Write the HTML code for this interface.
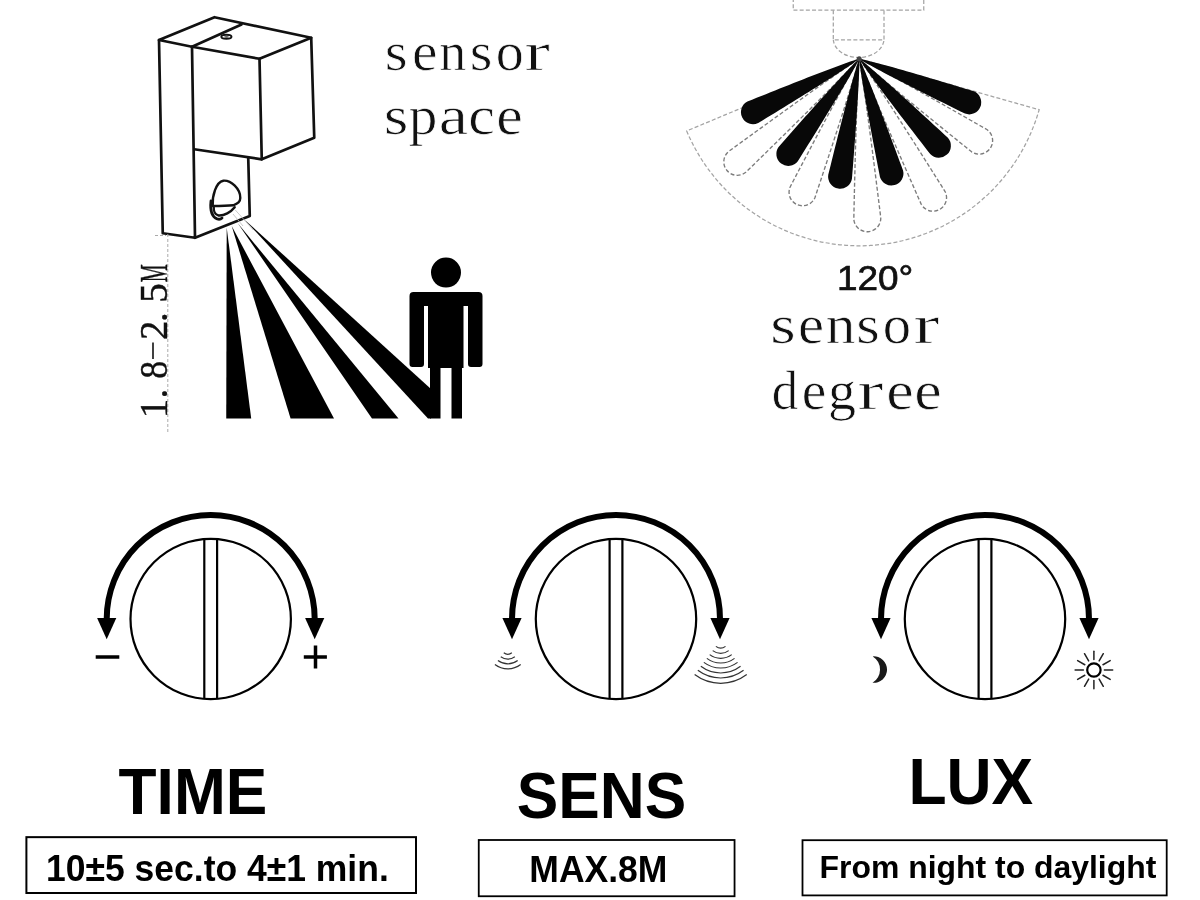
<!DOCTYPE html>
<html><head><meta charset="utf-8"><title>Sensor</title>
<style>
html,body{margin:0;padding:0;background:#fff;}
body{width:1200px;height:900px;overflow:hidden;}
svg{display:block;filter:grayscale(1);}
.ser{font-family:"Liberation Serif",serif;}
.sans{font-family:"Liberation Sans",sans-serif;}
</style></head><body>
<svg width="1200" height="900" viewBox="0 0 1200 900">
<rect width="1200" height="900" fill="#fff"/>

<g fill="none" stroke="#111" stroke-width="2.7" stroke-linejoin="round" stroke-linecap="round">
<path d="M159,40 L214.5,17.2 L311.2,37.75 L259.5,58.75 L192,46.75 Z"/>
<path d="M241.5,24.5 L192,46.75"/>
<path d="M159,40 L162.75,233.25 L195,237.75 L192,46.75"/>
<path d="M259.5,58.75 L261.75,159.3 L314.25,137.7 L311.2,37.75"/>
<path d="M194.25,149.25 L261.75,159.3"/>
<path d="M248.25,158.25 L249.75,216 L195,237.75"/>
</g>
<ellipse cx="226.4" cy="36.8" rx="5.1" ry="2.1" fill="none" stroke="#111" stroke-width="1.9"/><ellipse cx="226.5" cy="37" rx="2.4" ry="1" fill="#666"/>
<g fill="none" stroke="#111" stroke-width="2.4" stroke-linecap="round" stroke-linejoin="round">
<path d="M212.7,206 C212,196 216,182 223.3,180.7 C231,180 240.5,189 240.3,198 C240.2,202 238,203.5 233.3,205.3 C226,206 218,206 212.7,206 Z"/>
<path d="M213.7,207 C213.5,211 215,215 218.5,215.5 C224,216 231,212 234.7,207.3"/>
<path d="M211,201 C210,210 212,217 217.3,219 C219,219.5 221,219 222,218" stroke-width="2.8"/>
</g>
<g stroke="#bbb" stroke-width="0.8"><path d="M235.3,210 L253.3,230"/><path d="M233,214 L243,226"/></g>
<g fill="#000">
<path d="M226.7,227.8 L226.25,418.4 L251.2,418.4 Z"/>
<path d="M231.7,226.1 L290.6,418.4 L334,418.4 Z"/>
<path d="M237.8,223.3 L372,418.4 L398.5,418.4 Z"/>
<path d="M244.4,219.4 L431,389 L431,418.4 L428,418.4 Z"/>
</g>
<g fill="#000">
<circle cx="446" cy="272.6" r="15"/>
<path d="M409.5,296 Q409.5,292 413.5,292 L478.5,292 Q482.5,292 482.5,296 L482.5,364 Q482.5,367 479.5,367 L471,367 Q468,367 468,364 L468,306 L463.5,306 L463.5,368 L462,368 L462,418.5 L451.5,418.5 L451.5,368 L440.5,368 L440.5,418.5 L430,418.5 L430,368 L428,368 L428,306 L424,306 L424,364 Q424,367 421,367 L412.5,367 Q409.5,367 409.5,364 Z"/>
</g>
<g stroke="#aaa" stroke-width="1" stroke-dasharray="3,2" fill="none"><path d="M167.8,234 L167.8,433.5"/><path d="M155,235.5 L166,235.5"/></g>
<text class="ser" font-size="39" fill="#111" stroke="#111" stroke-width="0.4" text-anchor="middle" transform="translate(167.2,408.5) rotate(-90) scale(1,1)">1</text>
<text class="ser" font-size="39" fill="#111" stroke="#111" stroke-width="0.4" text-anchor="middle" transform="translate(167.2,393.5) rotate(-90) scale(1,1)">.</text>
<text class="ser" font-size="39" fill="#111" stroke="#111" stroke-width="0.4" text-anchor="middle" transform="translate(167.2,369.75) rotate(-90) scale(0.92,1)">8</text>
<text class="ser" font-size="39" fill="#111" stroke="#111" stroke-width="0.4" text-anchor="middle" transform="translate(167.2,330.2) rotate(-90) scale(1,1)">2</text>
<text class="ser" font-size="39" fill="#111" stroke="#111" stroke-width="0.4" text-anchor="middle" transform="translate(167.2,317) rotate(-90) scale(1,1)">.</text>
<text class="ser" font-size="39" fill="#111" stroke="#111" stroke-width="0.4" text-anchor="middle" transform="translate(167.2,293) rotate(-90) scale(1,1)">5</text>
<text class="ser" font-size="39" fill="#111" stroke="#111" stroke-width="0.4" text-anchor="middle" transform="translate(167.2,273.3) rotate(-90) scale(0.52,1)">M</text>
<path d="M153,342.5 L153,359" stroke="#111" stroke-width="1.6"/>
<g fill="none" stroke="#a4a4a4" stroke-width="1.25" stroke-dasharray="4,2.2">
<path d="M793.25,-2 L793.25,10.2 L923.75,10.2 L923.75,-2"/>
<path d="M833.3,10.2 L833.3,39.75 L884,39.75 L884,10.2"/>
<path d="M833.3,39.75 A25.4,19 0 0 0 884,39.75"/>
<path d="M859.2,58.8 L1039.13,109.72 A187,187 0 0 1 686.69,130.96 Z"/>
</g>
<g fill="#fff" stroke="#7c7c7c" stroke-width="1.35" stroke-dasharray="4,2.2">
<path d="M859.2,58.8 L853.53,62.41 L847.97,66.15 L842.45,69.94 L836.94,73.75 L831.46,77.58 L825.99,81.43 L820.52,85.28 L815.06,89.15 L809.62,93.02 L804.17,96.9 L798.73,100.79 L793.3,104.68 L787.87,108.58 L782.45,112.48 L777.02,116.39 L771.61,120.3 L766.19,124.21 L760.78,128.13 L755.37,132.05 L749.96,135.98 L744.56,139.9 L739.15,143.83 L733.75,147.76 L728.36,151.7 A13.5,13.5 0 0 0 745.78,172.32 L750.56,167.65 L755.34,162.98 L760.11,158.31 L764.89,153.64 L769.66,148.96 L774.43,144.28 L779.19,139.6 L783.95,134.91 L788.71,130.22 L793.47,125.53 L798.22,120.83 L802.97,116.12 L807.71,111.42 L812.45,106.7 L817.19,101.98 L821.91,97.26 L826.64,92.52 L831.35,87.78 L836.05,83.02 L840.74,78.25 L845.42,73.46 L850.08,68.65 L854.7,63.79 L859.2,58.8 Z"/>
<path d="M859.2,58.8 L856,64.02 L852.97,69.3 L849.99,74.61 L847.03,79.93 L844.1,85.25 L841.19,90.59 L838.29,95.93 L835.4,101.28 L832.53,106.63 L829.66,111.98 L826.79,117.34 L823.94,122.7 L821.09,128.07 L818.25,133.43 L815.41,138.8 L812.57,144.17 L809.74,149.54 L806.92,154.91 L804.1,160.29 L801.28,165.66 L798.46,171.04 L795.65,176.42 L792.84,181.8 L790.04,187.18 A13.5,13.5 0 0 0 814.89,197.73 L816.82,191.98 L818.73,186.22 L820.65,180.46 L822.56,174.7 L824.47,168.94 L826.38,163.17 L828.28,157.41 L830.18,151.64 L832.08,145.87 L833.96,140.1 L835.85,134.33 L837.73,128.56 L839.6,122.78 L841.47,117 L843.32,111.21 L845.17,105.43 L847.01,99.63 L848.84,93.84 L850.66,88.04 L852.45,82.23 L854.23,76.41 L855.98,70.58 L857.67,64.72 L859.2,58.8 Z"/>
<path d="M859.2,58.8 L858.63,65.5 L858.24,72.19 L857.91,78.88 L857.61,85.56 L857.33,92.25 L857.07,98.93 L856.83,105.62 L856.6,112.3 L856.38,118.98 L856.16,125.66 L855.96,132.35 L855.76,139.03 L855.58,145.71 L855.39,152.39 L855.21,159.07 L855.04,165.75 L854.87,172.43 L854.71,179.11 L854.55,185.79 L854.39,192.46 L854.24,199.14 L854.09,205.82 L853.95,212.5 L853.81,219.18 A13.5,13.5 0 0 0 880.77,217.81 L879.96,211.18 L879.14,204.55 L878.31,197.92 L877.49,191.29 L876.66,184.67 L875.83,178.04 L874.99,171.41 L874.15,164.78 L873.3,158.15 L872.45,151.52 L871.59,144.9 L870.72,138.27 L869.85,131.64 L868.98,125.02 L868.09,118.39 L867.2,111.76 L866.29,105.14 L865.37,98.51 L864.44,91.89 L863.49,85.27 L862.51,78.65 L861.51,72.03 L860.44,65.41 L859.2,58.8 Z"/>
<path d="M859.2,58.8 L861.48,65.02 L863.92,71.16 L866.41,77.27 L868.92,83.36 L871.46,89.44 L874.02,95.52 L876.58,101.58 L879.16,107.65 L881.75,113.7 L884.35,119.75 L886.95,125.8 L889.56,131.85 L892.17,137.89 L894.79,143.93 L897.42,149.97 L900.05,156 L902.68,162.03 L905.32,168.06 L907.96,174.09 L910.61,180.11 L913.26,186.14 L915.91,192.16 L918.56,198.18 L921.22,204.2 A13.5,13.5 0 0 0 945.06,191.53 L941.56,185.96 L938.05,180.39 L934.54,174.82 L931.03,169.26 L927.51,163.7 L923.99,158.14 L920.47,152.58 L916.94,147.02 L913.41,141.46 L909.87,135.91 L906.33,130.36 L902.78,124.82 L899.23,119.27 L895.67,113.73 L892.11,108.2 L888.53,102.66 L884.95,97.14 L881.35,91.62 L877.75,86.1 L874.12,80.6 L870.48,75.1 L866.8,69.62 L863.08,64.17 L859.2,58.8 Z"/>
<path d="M859.2,58.8 L863.69,62.96 L868.28,66.97 L872.9,70.94 L877.55,74.88 L882.2,78.8 L886.87,82.7 L891.54,86.59 L896.22,90.48 L900.91,94.35 L905.6,98.22 L910.3,102.07 L915,105.93 L919.7,109.77 L924.41,113.62 L929.12,117.45 L933.83,121.29 L938.55,125.12 L943.27,128.94 L947.99,132.77 L952.71,136.58 L957.44,140.4 L962.16,144.21 L966.89,148.02 L971.62,151.83 A13.5,13.5 0 0 0 986.84,129.53 L981.57,126.51 L976.29,123.5 L971.02,120.49 L965.74,117.48 L960.46,114.48 L955.18,111.48 L949.9,108.48 L944.61,105.49 L939.32,102.5 L934.03,99.51 L928.74,96.53 L923.44,93.55 L918.13,90.58 L912.83,87.62 L907.52,84.66 L902.2,81.71 L896.88,78.77 L891.55,75.84 L886.21,72.92 L880.86,70.01 L875.5,67.13 L870.12,64.27 L864.71,61.46 L859.2,58.8 Z"/>
</g>
<g fill="#080808">
<path d="M859.2,58.8 L854.34,60.19 L849.59,61.79 L844.88,63.46 L840.18,65.16 L835.5,66.89 L830.82,68.64 L826.15,70.41 L821.49,72.19 L816.84,73.98 L812.19,75.78 L807.54,77.58 L802.9,79.4 L798.26,81.22 L793.63,83.05 L789,84.89 L784.37,86.73 L779.74,88.57 L775.12,90.42 L770.49,92.27 L765.87,94.13 L761.25,95.99 L756.64,97.85 L752.02,99.72 L747.41,101.59 A12,12 0 0 0 758.19,123.03 L762.44,120.45 L766.7,117.85 L770.95,115.26 L775.19,112.66 L779.44,110.06 L783.68,107.45 L787.92,104.84 L792.16,102.23 L796.4,99.61 L800.64,96.98 L804.87,94.35 L809.1,91.71 L813.32,89.07 L817.54,86.42 L821.76,83.76 L825.97,81.09 L830.18,78.41 L834.38,75.71 L838.57,73.01 L842.75,70.28 L846.92,67.52 L851.07,64.73 L855.19,61.87 L859.2,58.8 Z"/>
<path d="M859.2,58.8 L855.48,62.2 L851.97,65.76 L848.5,69.35 L845.07,72.96 L841.67,76.6 L838.28,80.25 L834.9,83.91 L831.54,87.57 L828.19,91.25 L824.84,94.93 L821.5,98.61 L818.18,102.31 L814.85,106 L811.53,109.7 L808.22,113.41 L804.91,117.12 L801.61,120.83 L798.31,124.54 L795.01,128.26 L791.72,131.98 L788.43,135.7 L785.14,139.42 L781.86,143.15 L778.58,146.88 A12,12 0 0 0 797.82,161.22 L800.46,157.01 L803.09,152.8 L805.72,148.59 L808.35,144.37 L810.97,140.16 L813.59,135.94 L816.21,131.71 L818.82,127.49 L821.43,123.26 L824.04,119.02 L826.63,114.79 L829.23,110.54 L831.81,106.3 L834.39,102.05 L836.97,97.79 L839.53,93.53 L842.08,89.26 L844.62,84.98 L847.15,80.69 L849.66,76.39 L852.15,72.07 L854.6,67.72 L857,63.33 L859.2,58.8 Z"/>
<path d="M859.2,58.8 L857.47,63.56 L855.99,68.37 L854.57,73.18 L853.19,78 L851.84,82.83 L850.52,87.66 L849.21,92.49 L847.91,97.32 L846.63,102.16 L845.36,107 L844.1,111.84 L842.84,116.68 L841.6,121.52 L840.36,126.37 L839.13,131.21 L837.9,136.05 L836.68,140.9 L835.46,145.75 L834.25,150.6 L833.04,155.44 L831.84,160.29 L830.64,165.14 L829.44,169.99 L828.25,174.84 A12,12 0 0 0 851.94,178.68 L852.34,173.7 L852.74,168.72 L853.13,163.74 L853.52,158.76 L853.9,153.78 L854.28,148.8 L854.66,143.81 L855.03,138.83 L855.39,133.84 L855.75,128.86 L856.1,123.87 L856.45,118.88 L856.79,113.89 L857.12,108.9 L857.44,103.91 L857.75,98.92 L858.05,93.92 L858.33,88.92 L858.6,83.92 L858.84,78.92 L859.06,73.91 L859.23,68.89 L859.34,63.87 L859.2,58.8 Z"/>
<path d="M859.2,58.8 L859.64,63.84 L860.31,68.82 L861.05,73.78 L861.83,78.73 L862.64,83.67 L863.47,88.61 L864.31,93.54 L865.17,98.46 L866.05,103.39 L866.93,108.31 L867.82,113.22 L868.72,118.14 L869.63,123.05 L870.54,127.96 L871.46,132.87 L872.39,137.78 L873.32,142.68 L874.25,147.59 L875.2,152.49 L876.14,157.39 L877.09,162.3 L878.04,167.2 L879,172.09 L879.96,176.99 A12,12 0 0 0 903.06,170.5 L901.33,165.82 L899.59,161.14 L897.85,156.46 L896.11,151.78 L894.36,147.1 L892.61,142.43 L890.85,137.76 L889.09,133.08 L887.33,128.41 L885.55,123.74 L883.77,119.07 L881.99,114.41 L880.2,109.74 L878.4,105.08 L876.59,100.42 L874.77,95.77 L872.93,91.11 L871.09,86.47 L869.22,81.82 L867.34,77.18 L865.43,72.55 L863.47,67.93 L861.46,63.33 L859.2,58.8 Z"/>
<path d="M859.2,58.8 L861.83,63.07 L864.64,67.17 L867.51,71.23 L870.4,75.26 L873.31,79.27 L876.25,83.26 L879.19,87.24 L882.14,91.22 L885.11,95.18 L888.08,99.14 L891.06,103.09 L894.05,107.03 L897.04,110.97 L900.03,114.9 L903.03,118.83 L906.04,122.76 L909.05,126.68 L912.06,130.6 L915.08,134.52 L918.1,138.43 L921.12,142.34 L924.15,146.25 L927.18,150.15 L930.21,154.05 A12,12 0 0 0 947.9,137.84 L944.28,134.48 L940.65,131.12 L937.02,127.77 L933.39,124.42 L929.76,121.07 L926.12,117.72 L922.48,114.38 L918.83,111.04 L915.18,107.7 L911.53,104.37 L907.87,101.04 L904.21,97.72 L900.54,94.4 L896.86,91.09 L893.18,87.78 L889.49,84.48 L885.79,81.19 L882.08,77.91 L878.36,74.64 L874.62,71.39 L870.86,68.16 L867.07,64.95 L863.22,61.79 L859.2,58.8 Z"/>
<path d="M859.2,58.8 L863.44,61.5 L867.78,63.96 L872.14,66.37 L876.51,68.73 L880.89,71.07 L885.29,73.39 L889.69,75.69 L894.09,77.97 L898.5,80.25 L902.91,82.51 L907.33,84.77 L911.75,87.02 L916.18,89.26 L920.6,91.5 L925.03,93.72 L929.46,95.95 L933.89,98.17 L938.32,100.38 L942.76,102.59 L947.2,104.8 L951.64,107 L956.08,109.19 L960.52,111.39 L964.96,113.58 A12,12 0 0 0 973.8,91.27 L969.06,89.82 L964.32,88.38 L959.58,86.94 L954.83,85.51 L950.09,84.08 L945.34,82.65 L940.6,81.23 L935.85,79.82 L931.09,78.4 L926.34,77 L921.58,75.6 L916.83,74.2 L912.07,72.82 L907.3,71.44 L902.53,70.07 L897.76,68.71 L892.98,67.36 L888.2,66.03 L883.41,64.71 L878.62,63.41 L873.81,62.14 L868.99,60.91 L864.14,59.74 L859.2,58.8 Z"/>
</g>
<circle cx="859.2" cy="58.8" r="2.5" fill="#444"/>
<circle cx="210.7" cy="619" r="80.2" fill="none" stroke="#000" stroke-width="2.2"/>
<path d="M204.3,539 L204.3,699 M217.1,539 L217.1,699" stroke="#000" stroke-width="2.2" fill="none"/>
<path d="M106.7,619 A104,104 0 0 1 314.7,619" fill="none" stroke="#000" stroke-width="6"/>
<path d="M97.1,618 L116.3,618 L106.7,639.2 Z" fill="#000"/>
<path d="M305.1,618 L324.3,618 L314.7,639.2 Z" fill="#000"/>
<circle cx="616" cy="619" r="80.2" fill="none" stroke="#000" stroke-width="2.2"/>
<path d="M609.6,539 L609.6,699 M622.4,539 L622.4,699" stroke="#000" stroke-width="2.2" fill="none"/>
<path d="M512,619 A104,104 0 0 1 720,619" fill="none" stroke="#000" stroke-width="6"/>
<path d="M502.4,618 L521.6,618 L512,639.2 Z" fill="#000"/>
<path d="M710.4,618 L729.6,618 L720,639.2 Z" fill="#000"/>
<circle cx="985" cy="619" r="80.2" fill="none" stroke="#000" stroke-width="2.2"/>
<path d="M978.6,539 L978.6,699 M991.4,539 L991.4,699" stroke="#000" stroke-width="2.2" fill="none"/>
<path d="M881,619 A104,104 0 0 1 1089,619" fill="none" stroke="#000" stroke-width="6"/>
<path d="M871.4,618 L890.6,618 L881,639.2 Z" fill="#000"/>
<path d="M1079.4,618 L1098.6,618 L1089,639.2 Z" fill="#000"/>
<path d="M95.7,657 L119.3,657" stroke="#000" stroke-width="3.5"/>
<path d="M303.8,657 L326.9,657 M315.5,645.4 L315.5,668.5" stroke="#000" stroke-width="3.5"/>
<path d="M503.77,652.85 A6.7,6.7 0 0 0 511.83,652.85" fill="none" stroke="#333" stroke-width="1.2"/>
<path d="M500.76,656.84 A11.7,11.7 0 0 0 514.84,656.84" fill="none" stroke="#333" stroke-width="1.2"/>
<path d="M497.93,660.6 A16.4,16.4 0 0 0 517.67,660.6" fill="none" stroke="#333" stroke-width="1.2"/>
<path d="M494.92,664.59 A21.4,21.4 0 0 0 520.68,664.59" fill="none" stroke="#333" stroke-width="1.2"/>
<path d="M715.89,646.39 A8,8 0 0 0 725.51,646.39" fill="none" stroke="#333" stroke-width="1.2"/>
<path d="M712.7,650.62 A13.3,13.3 0 0 0 728.7,650.62" fill="none" stroke="#333" stroke-width="1.2"/>
<path d="M709.69,654.62 A18.3,18.3 0 0 0 731.71,654.62" fill="none" stroke="#333" stroke-width="1.2"/>
<path d="M706.86,658.37 A23,23 0 0 0 734.54,658.37" fill="none" stroke="#333" stroke-width="1.2"/>
<path d="M703.85,662.36 A28,28 0 0 0 737.55,662.36" fill="none" stroke="#333" stroke-width="1.2"/>
<path d="M700.84,666.35 A33,33 0 0 0 740.56,666.35" fill="none" stroke="#333" stroke-width="1.2"/>
<path d="M697.83,670.35 A38,38 0 0 0 743.57,670.35" fill="none" stroke="#333" stroke-width="1.2"/>
<path d="M694.64,674.58 A43.3,43.3 0 0 0 746.76,674.58" fill="none" stroke="#333" stroke-width="1.2"/>
<path d="M872.8,656.4 A13.25,13.25 0 1 1 872.5,682.8 A15.5,15.5 0 0 0 872.8,656.4 Z" fill="#1a1a1a"/>
<g stroke="#222" stroke-width="1.5" fill="none" stroke-linecap="round">
<circle cx="1093.9" cy="670" r="6.7" stroke="#000" stroke-width="2.2"/>
<path d="M1104.4,670 L1112.7,670"/>
<path d="M1102.99,675.25 L1110.18,679.4"/>
<path d="M1099.15,679.09 L1103.3,686.28"/>
<path d="M1093.9,680.5 L1093.9,688.8"/>
<path d="M1088.65,679.09 L1084.5,686.28"/>
<path d="M1084.81,675.25 L1077.62,679.4"/>
<path d="M1083.4,670 L1075.1,670"/>
<path d="M1084.81,664.75 L1077.62,660.6"/>
<path d="M1088.65,660.91 L1084.5,653.72"/>
<path d="M1093.9,659.5 L1093.9,651.2"/>
<path d="M1099.15,660.91 L1103.3,653.72"/>
<path d="M1102.99,664.75 L1110.18,660.6"/>
</g>
<text class="ser" font-size="54.5" fill="#111" stroke="#fff" stroke-width="0.7" text-anchor="middle" transform="translate(396.1,70) scale(1.08,1)">s</text>
<text class="ser" font-size="54.5" fill="#111" stroke="#fff" stroke-width="0.7" text-anchor="middle" transform="translate(424.8,70) scale(1.06,1)">e</text>
<text class="ser" font-size="54.5" fill="#111" stroke="#fff" stroke-width="0.7" text-anchor="middle" transform="translate(452.7,70) scale(0.99,1)">n</text>
<text class="ser" font-size="54.5" fill="#111" stroke="#fff" stroke-width="0.7" text-anchor="middle" transform="translate(481,70) scale(1.07,1)">s</text>
<text class="ser" font-size="54.5" fill="#111" stroke="#fff" stroke-width="0.7" text-anchor="middle" transform="translate(509.7,70) scale(1.03,1)">o</text>
<text class="ser" font-size="54.5" fill="#111" stroke="#fff" stroke-width="0.7" text-anchor="middle" transform="translate(537.3,70) scale(1.4,1)">r</text>
<text class="ser" font-size="54.5" fill="#111" stroke="#fff" stroke-width="0.7" text-anchor="middle" transform="translate(396,134) scale(1.16,1)">s</text>
<text class="ser" font-size="54.5" fill="#111" stroke="#fff" stroke-width="0.7" text-anchor="middle" transform="translate(423,134) scale(1.05,1)">p</text>
<text class="ser" font-size="54.5" fill="#111" stroke="#fff" stroke-width="0.7" text-anchor="middle" transform="translate(453.5,134) scale(1.21,1)">a</text>
<text class="ser" font-size="54.5" fill="#111" stroke="#fff" stroke-width="0.7" text-anchor="middle" transform="translate(481.5,134) scale(1.1,1)">c</text>
<text class="ser" font-size="54.5" fill="#111" stroke="#fff" stroke-width="0.7" text-anchor="middle" transform="translate(509.5,134) scale(1.1,1)">e</text>
<text class="ser" font-size="55.5" fill="#111" stroke="#fff" stroke-width="0.7" text-anchor="middle" transform="translate(783,343) scale(1.18,1)">s</text>
<text class="ser" font-size="55.5" fill="#111" stroke="#fff" stroke-width="0.7" text-anchor="middle" transform="translate(811,343) scale(1.06,1)">e</text>
<text class="ser" font-size="55.5" fill="#111" stroke="#fff" stroke-width="0.7" text-anchor="middle" transform="translate(840.5,343) scale(1.07,1)">n</text>
<text class="ser" font-size="55.5" fill="#111" stroke="#fff" stroke-width="0.7" text-anchor="middle" transform="translate(868,343) scale(1.09,1)">s</text>
<text class="ser" font-size="55.5" fill="#111" stroke="#fff" stroke-width="0.7" text-anchor="middle" transform="translate(897,343) scale(1.02,1)">o</text>
<text class="ser" font-size="55.5" fill="#111" stroke="#fff" stroke-width="0.7" text-anchor="middle" transform="translate(926.5,343) scale(1.4,1)">r</text>
<text class="ser" font-size="55.5" fill="#111" stroke="#fff" stroke-width="0.7" text-anchor="middle" transform="translate(785,409) scale(0.95,1)">d</text>
<text class="ser" font-size="55.5" fill="#111" stroke="#fff" stroke-width="0.7" text-anchor="middle" transform="translate(814,409) scale(1,1)">e</text>
<text class="ser" font-size="55.5" fill="#111" stroke="#fff" stroke-width="0.7" text-anchor="middle" transform="translate(842,409) scale(1.01,1)">g</text>
<text class="ser" font-size="55.5" fill="#111" stroke="#fff" stroke-width="0.7" text-anchor="middle" transform="translate(870.5,409) scale(1.4,1)">r</text>
<text class="ser" font-size="55.5" fill="#111" stroke="#fff" stroke-width="0.7" text-anchor="middle" transform="translate(900,409) scale(1.12,1)">e</text>
<text class="ser" font-size="55.5" fill="#111" stroke="#fff" stroke-width="0.7" text-anchor="middle" transform="translate(928,409) scale(1.12,1)">e</text>
<text class="sans" font-weight="bold" font-size="64.5" fill="#000" x="118.57" y="813.85" textLength="148.69" lengthAdjust="spacingAndGlyphs">TIME</text>
<text class="sans" font-weight="bold" font-size="64.5" fill="#000" x="516.79" y="818" textLength="169.53" lengthAdjust="spacingAndGlyphs">SENS</text>
<text class="sans" font-weight="bold" font-size="64.5" fill="#000" x="908.4" y="804.08" textLength="124.82" lengthAdjust="spacingAndGlyphs">LUX</text>
<text class="sans" font-weight="bold" font-size="36.9" fill="#000" x="46.07" y="880.8" textLength="342.69" lengthAdjust="spacingAndGlyphs">10±5 sec.to 4±1 min.</text>
<text class="sans" font-weight="bold" font-size="36.9" fill="#000" x="529.3" y="882.3" textLength="138.12" lengthAdjust="spacingAndGlyphs">MAX.8M</text>
<text class="sans" font-weight="bold" font-size="32.1" fill="#000" x="819.58" y="877.7" textLength="336.75" lengthAdjust="spacingAndGlyphs">From night to daylight</text>
<text class="sans" stroke="#111" stroke-width="0.7" font-size="35.08" fill="#111" x="836.92" y="289.84" textLength="76.27" lengthAdjust="spacingAndGlyphs">120°</text>
<rect x="26.4" y="837.15" width="389.6" height="55.85" fill="none" stroke="#000" stroke-width="2"/>
<rect x="478.75" y="840" width="255.8" height="56.25" fill="none" stroke="#000" stroke-width="1.8"/>
<rect x="802.5" y="840.2" width="364.2" height="55.2" fill="none" stroke="#000" stroke-width="1.8"/>
</svg>
</body></html>
